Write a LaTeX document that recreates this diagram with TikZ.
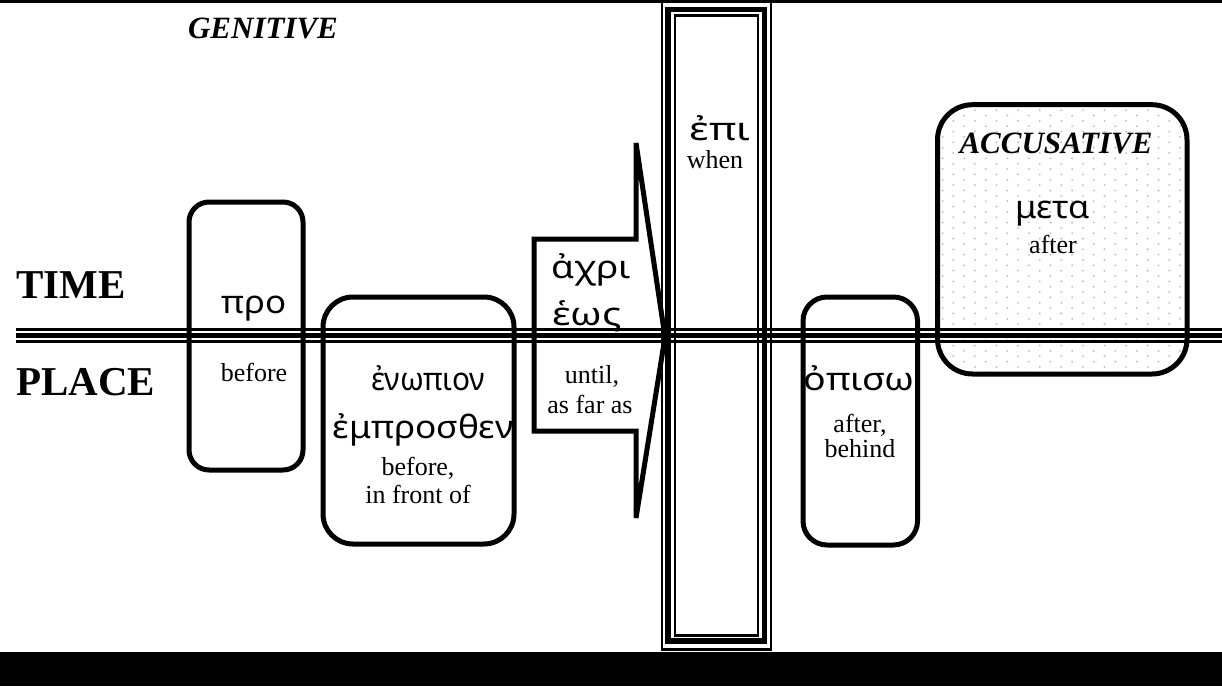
\documentclass[tikz,border=0pt]{standalone}
\usepackage{graphicx}
\usepackage{fontspec}
\setmainfont{Liberation Serif}
\newfontfamily\gr{Noto Sans}
\newcommand\gsx[2]{\scalebox{#1}[1]{#2}}
\begin{document}
\begin{tikzpicture}[x=1pt,y=-1pt,
  box/.style={line width=5pt, rounded corners=#1},
  lab/.style={font=\fontsize{26}{28}\selectfont, anchor=base, inner sep=0pt},
  grk/.style={font=\gr\fontsize{32}{34}\selectfont, anchor=base, inner sep=0pt},
  head/.style={font=\bfseries\itshape\fontsize{31}{33}\selectfont, anchor=base, inner sep=0pt},
  big/.style={font=\bfseries\fontsize{41}{43}\selectfont, anchor=base west, inner sep=0pt},
  dotc/.style={fill=black!24},
  thinrule/.style={line width=2.5pt},
  thickrule/.style={line width=5pt}]
\useasboundingbox (0,0) rectangle (1222,686);
% dotted fill of accusative box
\begin{scope}
  \clip[rounded corners=35pt] (937.5,104.7) rectangle (1187,374);
  \foreach \i in {0,...,23}{
    \foreach \j in {0,...,25}{
      \fill[dotc] ({942.5+\i*10.8},{104.85+5.35*mod(\i,2)+\j*10.7}) circle (1.1pt);
    }
  }
\end{scope}
% top rule and bottom bar
\fill (0,0) rectangle (1222,2.8);
\fill (0,652) rectangle (1222,686);
% horizontal triple line
\coordinate (hl) at (16,335.2);
\coordinate (hr) at (1222,335.2);
\draw[thinrule] ([yshift=5.6pt]hl) -- ([yshift=5.6pt]hr);
\draw[thickrule] (hl) -- (hr);
\draw[thinrule] ([yshift=-6.1pt]hl) -- ([yshift=-6.1pt]hr);
% boxes
\draw[box=20pt] (189,202) rectangle (303,470);
\draw[box=30pt] (323,297) rectangle (514,544);
\draw[box=24pt] (803,297) rectangle (917.5,545);
\draw[box=35pt] (937.5,104.7) rectangle (1187,374);
% tall triple rectangle
\draw[line width=2.3pt] (661.7,1.5) rectangle (771.3,649.5);
\draw[line width=5.5pt] (668,9.5) rectangle (764.7,640.8);
\draw[line width=2.3pt] (674.7,15.5) rectangle (758,635.6);
% arrow shape
\draw[line width=5pt, line join=miter, miter limit=5]
  (534,239) -- (636,239) -- (636,143) -- (665,337) -- (636,518) -- (636,431) -- (534,431) -- cycle;
% texts
\node[head] (gen) at (263,38) {GENITIVE};
\node[big] (time) at (16,298) {TIME};
\node[big] (place) at (16,395) {PLACE};
\node[grk] (pro) at (254,313) {\gsx{1.09}{προ}};
\node[lab] (before1) at (254,381) {before};
\node[grk] (achri) at (591,278) {\gsx{1.16}{ἀχρι}};
\node[grk] (heos) at (587,325) {\gsx{1.24}{ἑως}};
\node[lab] (until) at (592,383) {until,};
\node[lab] (asfar) at (590,413) {as far as};
\node[grk] (epi) at (720,140) {\gsx{1.3}{ἐπι}};
\node[lab] (when) at (715,168) {when};
\node[grk] (enopion) at (428,390) {\gsx{0.93}{ἐνωπιον}};
\node[grk] (empros) at (423,438) {\gsx{1.1}{ἐμπροσθεν}};
\node[lab] (before2) at (418,475) {before,};
\node[lab] (infront) at (418,503) {in front of};
\node[grk] (opiso) at (859,390) {\gsx{1.17}{ὀπισω}};
\node[lab] (after1) at (860,432) {after,};
\node[lab] (behind) at (860,457) {behind};
\node[head] (acc) at (1056,153) {ACCUSATIVE};
\node[grk] (meta) at (1053,218) {\gsx{1.07}{μετα}};
\node[lab] (after2) at (1053,253) {after};
\end{tikzpicture}
\end{document}
